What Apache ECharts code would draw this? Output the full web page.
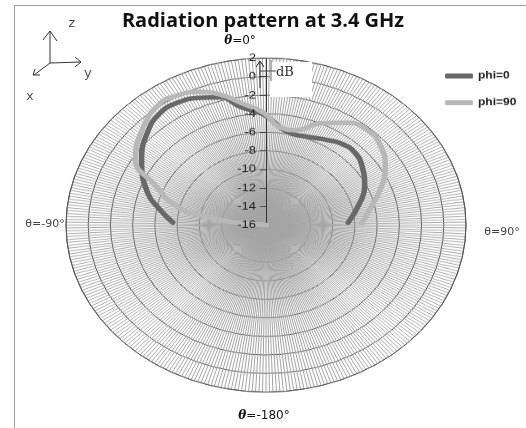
<!DOCTYPE html>
<html>
<head>
<meta charset="utf-8">
<script src="https://cdn.jsdelivr.net/npm/echarts@6/dist/echarts.min.js"></script>
<style>
html, body { margin: 0; padding: 0; background: #fff; overflow: hidden; }
#frame { position: absolute; left: 14px; top: 5px; width: 530px; height: 440px; border-left: 1px solid #a0a0a0; border-top: 1px solid #a0a0a0; }
/* the pattern is drawn as an ellipse: render a circle and squash it */
#polar { position: absolute; left: 0; top: 0; width: 526px; height: 540px; transform: scaleY(0.835); transform-origin: 0 0; }
#labels { position: absolute; left: 0; top: 0; width: 526px; height: 428px; pointer-events: none; }
</style>
</head>
<body>
<div id="frame"></div>
<div id="polar"></div>
<div id="labels"></div>
<script>
// gain in dB, theta in degrees (0 = top)
var phi0Theta = [-88, -80, -72, -58, -47, -38, -31, -24, -17, -10, -1, 11, 21, 31, 38, 45, 54, 65, 74, 88];
var phi0Gain  = [-7.6, -6.3, -4.8, -2.8, -1.4, -0.6, -0.6, -1.0, -1.6, -3.1, -4.1, -5.8, -5.8, -5.3, -4.9, -4.8, -5.3, -6.2, -7.2, -8.6];

var phi90Theta = [-90, -84, -81, -76, -66, -59, -46, -36, -30, -23, -16, -10, -1, 7, 15, 24, 34, 42, 49, 60, 70, 78, 89];
var phi90Gain  = [-16, -13, -10.9, -7.8, -4.9, -2.3, -0.7, 0.2, 0.1, -0.4, -1.4, -2.6, -3.9, -5.4, -5.4, -4.0, -2.7, -2.3, -2.5, -3.6, -5.1, -6.3, -7.4];

var seriesNames = ['phi=0', 'phi=90'];
var gainMin = -16, gainMax = 2, gainStep = 2;
var thetaLabels = ['θ=0°', 'θ=90°', 'θ=-180°', 'θ=-90°'];

// polar wants [radius, angle]; the angle axis runs 0..360 clockwise from the top
function toPolar(thetas, gains) {
    return thetas.map(function (t, i) {
        return [gains[i], t < 0 ? t + 360 : t];
    });
}

var polarChart = echarts.init(document.getElementById('polar'));
polarChart.setOption({
    animation: false,
    legend: {
        orient: 'vertical',
        left: 440,
        top: 80,
        itemWidth: 28,
        itemHeight: 6,
        itemGap: 20,
        icon: 'roundRect',
        textStyle: { fontSize: 12, fontWeight: 'bold', color: '#222', fontFamily: 'Liberation Sans' },
        data: seriesNames
    },
    // second polar sits on the same spot and only carries the dB labels above the traces
    polar: [
        { center: [266, 269.5], radius: 200 },
        { center: [266, 269.5], radius: 200, z: 5 }
    ],
    angleAxis: [
        {
            polarIndex: 0,
            type: 'value',
            min: 0,
            max: 360,
            interval: 1,
            startAngle: 90,
            clockwise: true,
            axisLine: { show: true, lineStyle: { color: '#555', width: 1 } },
            axisTick: { show: false },
            axisLabel: { show: false },
            splitLine: { show: true, lineStyle: { color: '#a4a4a4', width: 1 } }
        },
        {
            polarIndex: 1,
            type: 'value',
            min: 0,
            max: 360,
            startAngle: 90,
            show: false
        }
    ],
    radiusAxis: [
        {
            polarIndex: 0,
            type: 'value',
            min: gainMin,
            max: gainMax,
            interval: gainStep,
            axisLine: { show: true, lineStyle: { color: '#333', width: 1 } },
            axisTick: { show: true, length: 6, lineStyle: { color: '#333' } },
            axisLabel: { show: false },
            splitLine: { show: true, lineStyle: { color: '#4a4a4a', width: 1 } }
        },
        {
            polarIndex: 1,
            type: 'value',
            min: gainMin,
            max: gainMax,
            interval: gainStep,
            z: 5,
            axisLine: { show: false },
            axisTick: { show: false },
            axisLabel: { color: '#222', fontSize: 13, margin: 10, fontFamily: 'Liberation Sans', hideOverlap: false },
            splitLine: { show: false }
        }
    ],
    series: [
        {
            name: seriesNames[0],
            type: 'line',
            coordinateSystem: 'polar',
            polarIndex: 0,
            smooth: true,
            showSymbol: false,
            color: '#686868',
            lineStyle: { width: 5.5, cap: 'round' },
            data: toPolar(phi0Theta, phi0Gain)
        },
        {
            name: seriesNames[1],
            type: 'line',
            coordinateSystem: 'polar',
            polarIndex: 0,
            smooth: true,
            showSymbol: false,
            color: '#b8b8b8',
            lineStyle: { width: 5.5, cap: 'round' },
            data: toPolar(phi90Theta, phi90Gain)
        }
    ]
});

var labelChart = echarts.init(document.getElementById('labels'));
var thetaRich = { t: { fontWeight: 'bold', fontStyle: 'italic', fontSize: 12, fontFamily: 'DejaVu Serif', fill: '#111' } };
function boldTheta(s) { return '{t|θ}' + s.slice(1); }
labelChart.setOption({
    animation: false,
    title: {
        text: 'Radiation pattern at 3.4 GHz',
        left: 'center',
        top: 6,
        textStyle: { fontFamily: 'Open Sans', fontSize: 20, fontWeight: 'bold', color: '#111' }
    },
    graphic: [
        // dB box over the top of the grid
        { type: 'rect', shape: { x: 270, y: 62, width: 42, height: 35 }, style: { fill: '#fff' } },
        { type: 'line', shape: { x1: 260, y1: 88, x2: 260, y2: 61 }, style: { stroke: '#222', lineWidth: 1 } },
        { type: 'polyline', shape: { points: [[256, 67], [260, 61], [264, 67]] }, style: { stroke: '#222', fill: null, lineWidth: 1 } },
        { type: 'line', shape: { x1: 260, y1: 71, x2: 276, y2: 71 }, style: { stroke: '#444', lineWidth: 1 } },
        { type: 'line', shape: { x1: 271, y1: 60, x2: 271, y2: 81 }, style: { stroke: '#666', lineWidth: 1 } },
        { type: 'text', x: 276, y: 73, style: { text: 'dB', font: '13px "DejaVu Serif"', fill: '#333', verticalAlign: 'middle' } },

        // coordinate triad
        { type: 'line', shape: { x1: 50, y1: 63, x2: 50, y2: 31 }, style: { stroke: '#333', lineWidth: 1 } },
        { type: 'polyline', shape: { points: [[43, 40], [50, 31], [57, 41]] }, style: { stroke: '#333', fill: null, lineWidth: 1 } },
        { type: 'line', shape: { x1: 50, y1: 63, x2: 81, y2: 62 }, style: { stroke: '#333', lineWidth: 1 } },
        { type: 'polyline', shape: { points: [[75, 57], [81, 62], [75, 67]] }, style: { stroke: '#333', fill: null, lineWidth: 1 } },
        { type: 'line', shape: { x1: 50, y1: 63, x2: 34, y2: 75 }, style: { stroke: '#333', lineWidth: 1 } },
        { type: 'polyline', shape: { points: [[35, 69], [33, 75], [40, 75]] }, style: { stroke: '#333', fill: null, lineWidth: 1 } },
        { type: 'text', x: 72, y: 24, style: { text: 'z', font: '13px "Liberation Mono"', fill: '#444', align: 'center', verticalAlign: 'middle' } },
        { type: 'text', x: 88, y: 74, style: { text: 'y', font: '13px "Liberation Mono"', fill: '#444', align: 'center', verticalAlign: 'middle' } },
        { type: 'text', x: 30, y: 97, style: { text: 'x', font: '13px "Liberation Mono"', fill: '#444', align: 'center', verticalAlign: 'middle' } },

        // theta markers round the pattern
        { type: 'text', x: 240, y: 41, style: { text: boldTheta(thetaLabels[0]), rich: thetaRich, font: '12px "DejaVu Sans"', fill: '#111', align: 'center', verticalAlign: 'middle' } },
        { type: 'text', x: 502, y: 232, style: { text: thetaLabels[1], font: '11px "DejaVu Sans"', fill: '#444', align: 'center', verticalAlign: 'middle' } },
        { type: 'text', x: 264, y: 416, style: { text: boldTheta(thetaLabels[2]), rich: thetaRich, font: '12px "DejaVu Sans"', fill: '#111', align: 'center', verticalAlign: 'middle' } },
        { type: 'text', x: 45, y: 224, style: { text: thetaLabels[3], font: '11px "DejaVu Sans"', fill: '#444', align: 'center', verticalAlign: 'middle' } }
    ]
});

window.addEventListener('resize', function () {
    polarChart.resize();
    labelChart.resize();
});
</script>
</body>
</html>
